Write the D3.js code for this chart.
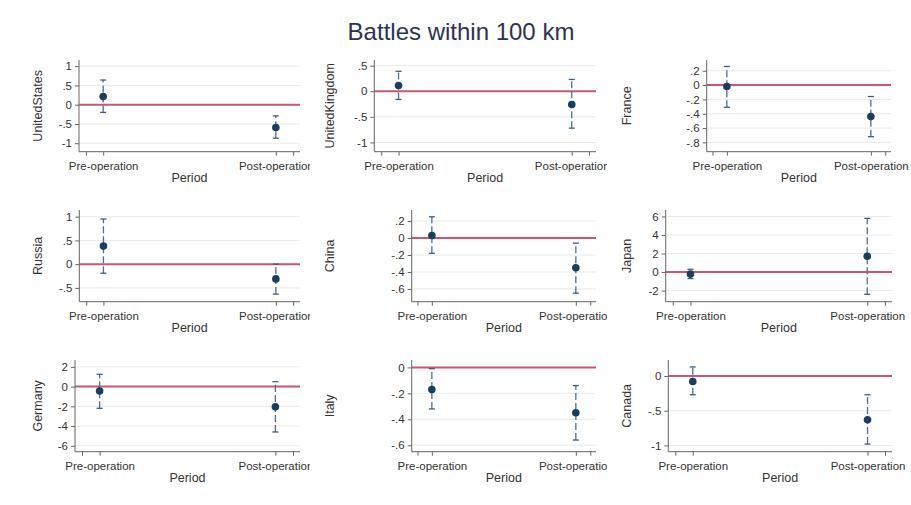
<!DOCTYPE html>
<html><head><meta charset="utf-8">
<script src="https://cdn.jsdelivr.net/npm/d3@7"></script>
<style>body{margin:0;background:#fff;} text{font-family:"Liberation Sans",Arial,sans-serif;}</style>
</head><body>
<svg id="chart" width="911" height="505"></svg>
<script>
// ---- data ----
const chartTitle = "Battles within 100 km";
const periods = ["Pre-operation", "Post-operation"];
const countries = ["UnitedStates","UnitedKingdom","France","Russia","China","Japan","Germany","Italy","Canada"];
const preEst  = [0.21, 0.11, -0.02, 0.38, 0.03, -0.22, -0.45, -0.17, -0.08];
const preLo   = [-0.20, -0.16, -0.31, -0.19, -0.18, -0.70, -2.20, -0.32, -0.27];
const preHi   = [0.64, 0.39, 0.26, 0.95, 0.25, 0.30, 1.25, -0.01, 0.13];
const postEst = [-0.59, -0.26, -0.44, -0.31, -0.35, 1.70, -2.05, -0.35, -0.63];
const postLo  = [-0.87, -0.72, -0.72, -0.63, -0.65, -2.40, -4.60, -0.56, -0.98];
const postHi  = [-0.29, 0.23, -0.16, 0.00, -0.06, 5.80, 0.50, -0.14, -0.27];
const yTicks = [
  [1, 0.5, 0, -0.5, -1],
  [0.5, 0, -0.5, -1],
  [0.2, 0, -0.2, -0.4, -0.6, -0.8],
  [1, 0.5, 0, -0.5],
  [0.2, 0, -0.2, -0.4, -0.6],
  [6, 4, 2, 0, -2],
  [2, 0, -2, -4, -6],
  [0, -0.2, -0.4, -0.6],
  [0, -0.5, -1]
];
const yRangeLo = [-1.22, -1.18, -0.93, -0.79, -0.75, -3.2, -6.6, -0.65, -1.09];
const yRangeHi = [1.16, 0.61, 0.35, 1.14, 0.33, 6.7, 2.7, 0.057, 0.23];
const xTitle = "Period";

// ---- layout ----
const axisX  = [79, 374.3, 706.7, 79.3, 411.7, 665.7, 75, 411.7, 668.3];
const rightX = [300, 596, 891, 300, 596, 892, 300, 596, 892];
const rowTop = [60, 210, 360];
const rowBot = [151.7, 301.7, 451.7];
const colTitleX = [42, 334, 631];
const colClip = [[0, 310], [310, 607], [607, 911]];

const svg = d3.select("#chart");
svg.append("text").attr("x", 461).attr("y", 40).attr("text-anchor", "middle")
  .attr("font-size", "24px").attr("fill", "#2a3352").text(chartTitle);

const fmt = v => {
  if (v === 0) return "0";
  let s = String(+v.toFixed(2));
  return s.replace(/^0\./, ".").replace(/^-0\./, "-.");
};

const defs = svg.append("defs");

countries.forEach((name, i) => {
  const row = Math.floor(i / 3), col = i % 3;
  const top = rowTop[row], bot = rowBot[row];
  defs.append("clipPath").attr("id", "clip" + i).append("rect")
    .attr("x", colClip[col][0]).attr("y", top - 20)
    .attr("width", colClip[col][1] - colClip[col][0]).attr("height", 160);
  const g = svg.append("g").attr("clip-path", "url(#clip" + i + ")");

  const x = d3.scaleLinear().domain([-0.14, 1.14]).range([axisX[i], rightX[i]]);
  const y = d3.scaleLinear().domain([yRangeLo[i], yRangeHi[i]]).range([bot, top]);

  // gridlines
  g.append("g").selectAll("line").data(yTicks[i]).join("line")
    .attr("x1", axisX[i]).attr("x2", rightX[i])
    .attr("y1", d => y(d)).attr("y2", d => y(d))
    .attr("stroke", "#eaeaea").attr("stroke-width", 1);

  // zero reference line
  g.append("line").attr("x1", axisX[i]).attr("x2", rightX[i])
    .attr("y1", y(0)).attr("y2", y(0))
    .attr("stroke", "#cc5573").attr("stroke-width", 2);

  // y axis
  const ya = d3.axisLeft(y).tickValues(yTicks[i]).tickFormat(fmt).tickSize(4).tickPadding(3);
  const yg = g.append("g").attr("transform", `translate(${axisX[i]},0)`).call(ya);
  yg.select(".domain").attr("d", `M0,${top}V${bot}`).attr("stroke", "#666");
  yg.selectAll(".tick line").attr("stroke", "#666");
  yg.selectAll("text").attr("font-size", "11.5px").attr("fill", "#333")
    .attr("font-family", "'Liberation Sans',Arial,sans-serif");

  // x axis
  const xa = d3.axisBottom(x).tickValues([-0.1, 0, 1, 1.1])
    .tickFormat(d => d === 0 ? periods[0] : d === 1 ? periods[1] : "").tickSize(4).tickPadding(6);
  const xg = g.append("g").attr("transform", `translate(0,${bot})`).call(xa);
  xg.select(".domain").attr("d", `M${axisX[i]},0H${rightX[i]}`).attr("stroke", "#666");
  xg.selectAll(".tick line").attr("stroke", "#666");
  xg.selectAll("text").attr("font-size", "11.5px").attr("fill", "#333")
    .attr("font-family", "'Liberation Sans',Arial,sans-serif");

  // x title
  g.append("text").attr("x", (axisX[i] + rightX[i]) / 2).attr("y", bot + 30)
    .attr("text-anchor", "middle").attr("font-size", "12.5px").attr("fill", "#333").text(xTitle);

  // y title
  g.append("text").attr("transform", `translate(${colTitleX[col]},${(top + bot) / 2}) rotate(-90)`)
    .attr("text-anchor", "middle").attr("font-size", "12.5px").attr("fill", "#333").text(name);

  const pts = [
    {p: 0, est: preEst[i], lo: preLo[i], hi: preHi[i]},
    {p: 1, est: postEst[i], lo: postLo[i], hi: postHi[i]}
  ];
  // CI lines
  g.append("g").selectAll("line").data(pts).join("line")
    .attr("x1", d => x(d.p)).attr("x2", d => x(d.p))
    .attr("y1", d => y(d.lo)).attr("y2", d => y(d.hi))
    .attr("stroke", "#4d7092").attr("stroke-width", 1.3).attr("stroke-dasharray", "7,3");
  // caps
  ["lo", "hi"].forEach(k => {
    g.append("g").selectAll("line").data(pts).join("line")
      .attr("x1", d => x(d.p) - 3).attr("x2", d => x(d.p) + 3)
      .attr("y1", d => y(d[k])).attr("y2", d => y(d[k]))
      .attr("stroke", "#3d5d7c").attr("stroke-width", 1.3);
  });
  // markers
  g.append("g").selectAll("circle").data(pts).join("circle")
    .attr("cx", d => x(d.p)).attr("cy", d => y(d.est)).attr("r", 3.8)
    .attr("fill", "#1b3d5e");
});
</script>
</body></html>
